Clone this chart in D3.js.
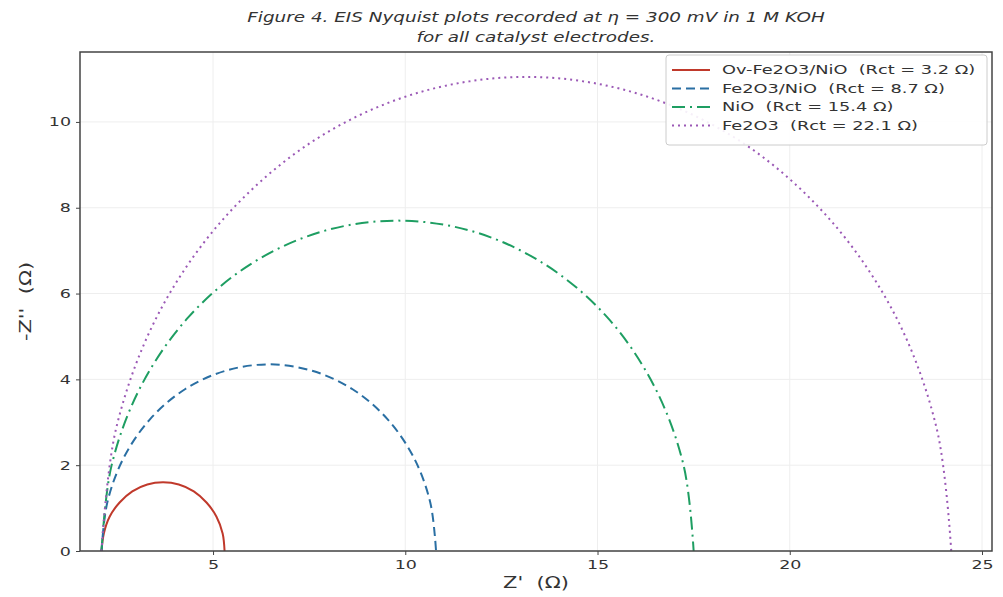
<!DOCTYPE html>
<html>
<head>
<meta charset="utf-8">
<script src="https://cdn.jsdelivr.net/npm/d3@7"></script>
<style>
  body { margin: 0; background: #fff; }
  text { font-family: "DejaVu Sans", sans-serif; fill: #333; }
</style>
</head>
<body>
<div id="chart"></div>
<script>
// series: [Z', -Z''] in ohm
var names = ["Ov-Fe2O3/NiO", "Fe2O3/NiO", "NiO", "Fe2O3"];
var rct = [3.2, 8.7, 15.4, 22.1];
var ovFe2O3NiO = [[2.1,0],[2.16,0.41],[2.31,0.8],[2.57,1.13],[2.9,1.39],[3.29,1.55],[3.7,1.6],
  [4.11,1.55],[4.5,1.39],[4.83,1.13],[5.09,0.8],[5.25,0.41],[5.3,0]];
var fe2O3NiO = [[2.1,0],[2.25,1.13],[2.68,2.18],[3.37,3.08],[4.27,3.77],[5.32,4.2],[6.45,4.35],
  [7.58,4.2],[8.63,3.77],[9.53,3.08],[10.22,2.18],[10.65,1.13],[10.8,0]];
var niO = [[2.1,0],[2.36,1.99],[3.13,3.85],[4.36,5.45],[5.95,6.67],[7.81,7.44],[9.8,7.7],
  [11.79,7.44],[13.65,6.67],[15.25,5.45],[16.47,3.85],[17.24,1.99],[17.5,0]];
var fe2O3 = [[2.1,0],[2.48,2.86],[3.58,5.53],[5.34,7.81],[7.63,9.57],[10.29,10.67],[13.15,11.05],
  [16.01,10.67],[18.68,9.57],[20.96,7.81],[22.72,5.53],[23.82,2.86],[24.2,0]];
var xTicks = [5, 10, 15, 20, 25];
var yTicks = [0, 2, 4, 6, 8, 10];

var allSeries = [ovFe2O3NiO, fe2O3NiO, niO, fe2O3];
var colors = ["#c0392b", "#2a6fa3", "#1e9e62", "#9b59b6"];
var dashes = [null, "9,5", "13,5,2,5", "2,4"];

var width = 1003, height = 597;
var margin = {top: 52, right: 11, bottom: 46, left: 80};
var w = width - margin.left - margin.right;
var h = height - margin.top - margin.bottom;
var S = 1.4; // glyphs in the figure are drawn wide

var svg = d3.select("#chart").append("svg")
    .attr("width", width)
    .attr("height", height);

var x = d3.scaleLinear().domain([1.54, 25.26]).range([0, w]);
var y = d3.scaleLinear().domain([0, 11.63]).range([h, 0]);

var g = svg.append("g")
    .attr("transform", "translate(" + margin.left + "," + margin.top + ")");

// faint grid
g.append("g").selectAll("line").data(xTicks).enter().append("line")
    .attr("x1", function (d) { return x(d); }).attr("x2", function (d) { return x(d); })
    .attr("y1", 0).attr("y2", h)
    .attr("stroke", "#eee").attr("stroke-width", 1);
g.append("g").selectAll("line").data(yTicks).enter().append("line")
    .attr("y1", function (d) { return y(d); }).attr("y2", function (d) { return y(d); })
    .attr("x1", 0).attr("x2", w)
    .attr("stroke", "#eee").attr("stroke-width", 1);

var xAxis = g.append("g")
    .attr("transform", "translate(0," + h + ")")
    .call(d3.axisBottom(x).tickValues(xTicks).tickSize(4).tickPadding(5));
var yAxis = g.append("g")
    .call(d3.axisLeft(y).tickValues(yTicks).tickSize(4).tickPadding(5));
[xAxis, yAxis].forEach(function (a) {
  a.select(".domain").remove();
  a.selectAll("line").attr("stroke", "#444");
  a.selectAll("text")
    .style("font-size", "12.5px").style("font-family", "DejaVu Sans, sans-serif").attr("fill", "#333")
    .each(function () {
      var t = d3.select(this);
      var tx = +t.attr("x") || 0, ty = +t.attr("y") || 0;
      t.attr("x", 0).attr("y", 0)
        .attr("transform", "translate(" + tx + "," + ty + ") scale(" + S + ",1)");
    });
});

var line = d3.line()
    .x(function (d) { return x(d[0]); })
    .y(function (d) { return y(d[1]); })
    .curve(d3.curveCatmullRom.alpha(0.5));

g.selectAll("path.curve").data(allSeries).enter().append("path")
    .attr("class", "curve")
    .attr("d", line)
    .attr("fill", "none")
    .attr("stroke", function (d, i) { return colors[i]; })
    .attr("stroke-width", 2)
    .attr("stroke-dasharray", function (d, i) { return dashes[i]; });

// frame
g.append("rect")
    .attr("width", w).attr("height", h)
    .attr("fill", "none").attr("stroke", "#444").attr("stroke-width", 1.5);

// legend
var lg = g.append("g").attr("transform", "translate(" + (w - 326) + ",3)");
lg.append("rect")
    .attr("width", 321).attr("height", 90).attr("rx", 3)
    .attr("fill", "#fff").attr("fill-opacity", 0.9)
    .attr("stroke", "#ccc");
var rows = lg.selectAll("g.row").data(names).enter().append("g")
    .attr("transform", function (d, i) { return "translate(0," + (15 + i * 18.5) + ")"; });
rows.append("line")
    .attr("x1", 6).attr("x2", 44)
    .attr("stroke", function (d, i) { return colors[i]; })
    .attr("stroke-width", 2)
    .attr("stroke-dasharray", function (d, i) { return dashes[i]; });
rows.append("text")
    .attr("transform", "translate(56,0) scale(" + S + ",1)")
    .attr("dy", "0.35em")
    .style("font-size", "12.7px")
    .attr("xml:space", "preserve")
    .text(function (d, i) { return d + "  (Rct = " + rct[i] + " Ω)"; });

// title and labels
var cx = margin.left + w / 2;
var title = svg.append("text")
    .attr("transform", "translate(" + cx + ",22) scale(1.36,1)")
    .attr("text-anchor", "middle")
    .style("font-size", "13.5px").style("font-style", "italic");
title.append("tspan").attr("x", 0).text("Figure 4. EIS Nyquist plots recorded at η = 300 mV in 1 M KOH");
title.append("tspan").attr("x", 0).attr("dy", 20).text("for all catalyst electrodes.");

svg.append("text")
    .attr("transform", "translate(" + cx + ",588) scale(" + S + ",1)")
    .attr("text-anchor", "middle")
    .style("font-size", "15px")
    .attr("xml:space", "preserve")
    .text("Z'  (Ω)");

svg.append("text")
    .attr("transform", "translate(31," + (margin.top + h / 2) + ") rotate(-90) scale(" + S + ",1)")
    .attr("text-anchor", "middle")
    .style("font-size", "15px")
    .attr("xml:space", "preserve")
    .text("-Z''  (Ω)");
</script>
</body>
</html>
